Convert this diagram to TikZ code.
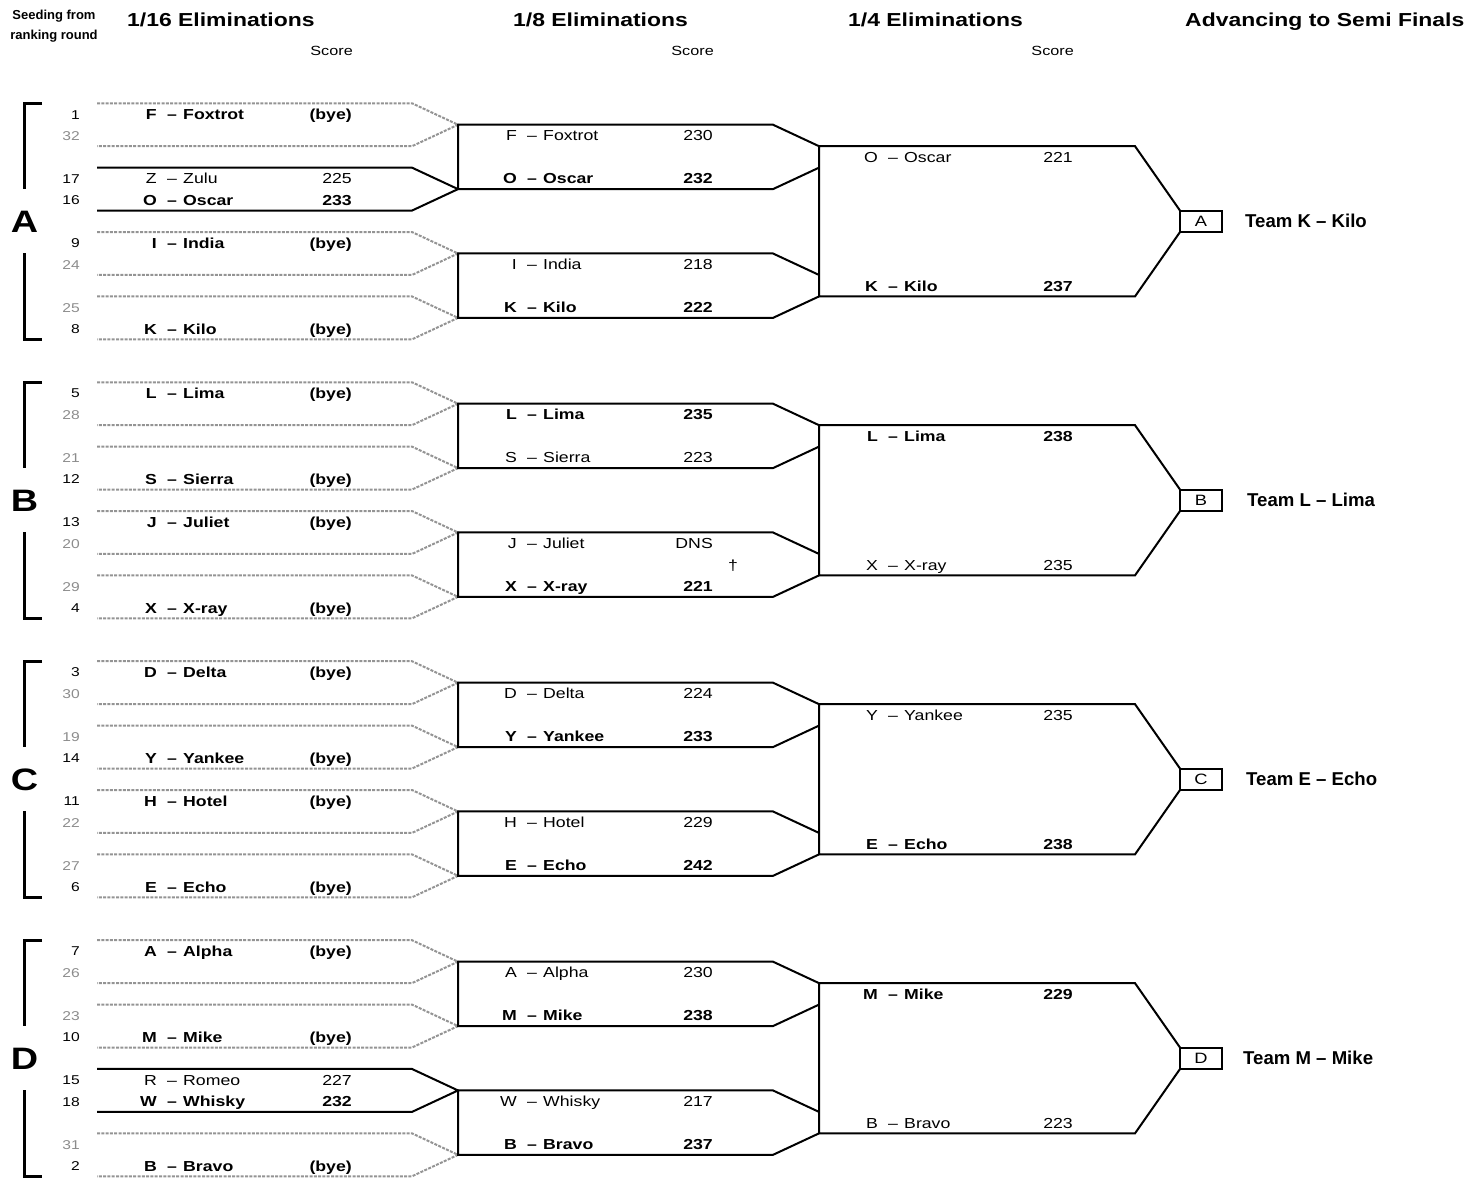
\documentclass[tikz,border=0pt]{standalone}
\usepackage{fontspec}
\setmainfont{Liberation Sans}[FakeStretch=1.22]
\newfontfamily\plainsans{Liberation Sans}
\tikzset{
  declare function={ry(\r)=114+21.46*\r;},
  solidln/.style={line width=2pt, black, line join=miter},
  dotln/.style={line width=2pt, black!42, dash pattern=on 3pt off 1.3pt},
  bracketln/.style={line width=3pt, line join=miter},
  txt/.style={inner sep=0pt, font=\fontsize{14.5}{16}\selectfont},
  btxt/.style={inner sep=0pt, font=\fontsize{14.5}{16}\selectfont\bfseries},
  seed/.style={inner sep=0pt, font=\fontsize{12.8}{14}\selectfont, anchor=base east},
  gseed/.style={seed, text=black!45},
  hdr/.style={inner sep=0pt, font=\fontsize{18.8}{20}\selectfont\bfseries, anchor=base west},
  scorehdr/.style={inner sep=0pt, font=\fontsize{13.3}{14}\selectfont, anchor=base east},
  seedhdr/.style={inner sep=0pt, font=\plainsans\fontsize{13}{14}\selectfont\bfseries, anchor=base},
  bigletter/.style={inner sep=0pt, font=\fontsize{31}{32}\selectfont\bfseries, anchor=base},
  semibox/.style={draw, line width=2pt, inner sep=0pt, outer sep=0pt, minimum width=42pt,
     minimum height=21.46pt, font=\fontsize{15}{16}\selectfont},
  teamlbl/.style={inner sep=0pt, font=\plainsans\fontsize{18.6}{20}\selectfont\bfseries, anchor=base west},
}
% entry: id, style, letter right x, row, letter, name, score right x, score
\newcommand\ent[8]{%
  \node[#2,anchor=base east] (#1-l) at ({#3},{ry(#4)+5.5}) {#5};
  \node[#2,anchor=base] (#1-d) at ({#3+15},{ry(#4)+5.5}) {–};
  \node[#2,anchor=base west] (#1-n) at ({#3+26},{ry(#4)+5.5}) {#6};
  \node[#2,anchor=base east] (#1-s) at ({#7},{ry(#4)+5.5}) {#8};
}
% seed: id, style, row, number
\newcommand\sd[4]{\node[#2] (#1) at (80,{ry(#3)+5}) {#4};}
% first round pair: id, row of first entry, line style
\newcommand\rone[3]{%
  \coordinate (#1) at (458,{ry(#2+0.5)});
  \draw[#3] (97,{ry(#2-0.5)}) -- (412,{ry(#2-0.5)}) -- (#1) -- (412,{ry(#2+1.5)}) -- (97,{ry(#2+1.5)});
}
% second round box: id, row base, top-left meeting, bottom-left meeting
\newcommand\rtwo[4]{%
  \coordinate (#1-t) at (819,{ry(#2+1.5)});
  \coordinate (#1-b) at (819,{ry(#2+2.5)});
  \draw[solidln] (#1-t) -- (773,{ry(#2+0.5)}) -- (#3) -- (#4) -- (773,{ry(#2+3.5)}) -- (#1-b);
}
% third round: id, group row base, semi node, top coordinate
\newcommand\rthree[4]{%
  \coordinate (#1-bot) at (819,{ry(#2+8.5)});
  \draw[solidln] (#3.north west) -- (1135,{ry(#2+1.5)}) -- (#4) -- (#1-bot) -- (1135,{ry(#2+8.5)}) -- (#3.south west);
}
% group bracket and letter: id, row base, letter
\newcommand\grp[3]{%
  \draw[bracketln] (42,{ry(#2-0.5)}) -- (24.5,{ry(#2-0.5)}) -- (24.5,{ry(#2+3.5)});
  \draw[bracketln] (24.5,{ry(#2+6.5)}) -- (24.5,{ry(#2+10.5)}) -- (42,{ry(#2+10.5)});
  \node[bigletter] (#1) at (24.5,{ry(#2+5)+11}) {#3};
}
\begin{document}
\begin{tikzpicture}[x=1pt,y=-1pt]
\useasboundingbox (0,0) rectangle (1482,1178);

% headers
\node[seedhdr] (h0a) at (54,19.3) {Seeding from};
\node[seedhdr] (h0b) at (54,39) {ranking round};
\node[hdr] (h1) at (127,26) {1/16 Eliminations};
\node[hdr] (h2) at (513,26) {1/8 Eliminations};
\node[hdr] (h3) at (848,26) {1/4 Eliminations};
\node[hdr] (h4) at (1185,26) {Advancing to Semi Finals};
\node[scorehdr] (s1) at (353,55) {Score};
\node[scorehdr] (s2) at (714,55) {Score};
\node[scorehdr] (s3) at (1074,55) {Score};

% ---------- group brackets ----------
\grp{GA}{0}{A}
\grp{GB}{13}{B}
\grp{GC}{26}{C}
\grp{GD}{39}{D}

% ---------- round 1 lines ----------
\rone{mA0}{0}{dotln}  \rone{mA1}{3}{solidln}  \rone{mA2}{6}{dotln}  \rone{mA3}{9}{dotln}
\rone{mB0}{13}{dotln} \rone{mB1}{16}{dotln}   \rone{mB2}{19}{dotln} \rone{mB3}{22}{dotln}
\rone{mC0}{26}{dotln} \rone{mC1}{29}{dotln}   \rone{mC2}{32}{dotln} \rone{mC3}{35}{dotln}
\rone{mD0}{39}{dotln} \rone{mD1}{42}{dotln}   \rone{mD2}{45}{solidln} \rone{mD3}{48}{dotln}

% ---------- semi boxes ----------
\node[semibox] (sA) at (1201,{ry(5)}) {A};
\node[semibox] (sB) at (1201,{ry(18)}) {B};
\node[semibox] (sC) at (1201,{ry(31)}) {C};
\node[semibox] (sD) at (1201,{ry(44)}) {D};

% ---------- round 2 boxes ----------
\rtwo{qA0}{0}{mA0}{mA1}   \rtwo{qA1}{6}{mA2}{mA3}
\rtwo{qB0}{13}{mB0}{mB1}  \rtwo{qB1}{19}{mB2}{mB3}
\rtwo{qC0}{26}{mC0}{mC1}  \rtwo{qC1}{32}{mC2}{mC3}
\rtwo{qD0}{39}{mD0}{mD1}  \rtwo{qD1}{45}{mD2}{mD3}

% ---------- round 3 ----------
\rthree{rA}{0}{sA}{qA0-t}
\rthree{rB}{13}{sB}{qB0-t}
\rthree{rC}{26}{sC}{qC0-t}
\rthree{rD}{39}{sD}{qD0-t}

% ---------- seeds ----------
\sd{sd1}{seed}{0}{1}    \sd{sd32}{gseed}{1}{32}  \sd{sd17}{seed}{3}{17}  \sd{sd16}{seed}{4}{16}
\sd{sd9}{seed}{6}{9}    \sd{sd24}{gseed}{7}{24}  \sd{sd25}{gseed}{9}{25} \sd{sd8}{seed}{10}{8}
\sd{sd5}{seed}{13}{5}   \sd{sd28}{gseed}{14}{28} \sd{sd21}{gseed}{16}{21} \sd{sd12}{seed}{17}{12}
\sd{sd13}{seed}{19}{13} \sd{sd20}{gseed}{20}{20} \sd{sd29}{gseed}{22}{29} \sd{sd4}{seed}{23}{4}
\sd{sd3}{seed}{26}{3}   \sd{sd30}{gseed}{27}{30} \sd{sd19}{gseed}{29}{19} \sd{sd14}{seed}{30}{14}
\sd{sd11}{seed}{32}{11} \sd{sd22}{gseed}{33}{22} \sd{sd27}{gseed}{35}{27} \sd{sd6}{seed}{36}{6}
\sd{sd7}{seed}{39}{7}   \sd{sd26}{gseed}{40}{26} \sd{sd23}{gseed}{42}{23} \sd{sd10}{seed}{43}{10}
\sd{sd15}{seed}{45}{15} \sd{sd18}{seed}{46}{18}  \sd{sd31}{gseed}{48}{31} \sd{sd2}{seed}{49}{2}

% ---------- round 1 entries ----------
\ent{a1}{btxt}{157}{0}{F}{Foxtrot}{352}{(bye)}
\ent{a2}{txt}{157}{3}{Z}{Zulu}{352}{225}
\ent{a3}{btxt}{157}{4}{O}{Oscar}{352}{233}
\ent{a4}{btxt}{157}{6}{I}{India}{352}{(bye)}
\ent{a5}{btxt}{157}{10}{K}{Kilo}{352}{(bye)}
\ent{b1}{btxt}{157}{13}{L}{Lima}{352}{(bye)}
\ent{b2}{btxt}{157}{17}{S}{Sierra}{352}{(bye)}
\ent{b3}{btxt}{157}{19}{J}{Juliet}{352}{(bye)}
\ent{b4}{btxt}{157}{23}{X}{X-ray}{352}{(bye)}
\ent{c1}{btxt}{157}{26}{D}{Delta}{352}{(bye)}
\ent{c2}{btxt}{157}{30}{Y}{Yankee}{352}{(bye)}
\ent{c3}{btxt}{157}{32}{H}{Hotel}{352}{(bye)}
\ent{c4}{btxt}{157}{36}{E}{Echo}{352}{(bye)}
\ent{d1}{btxt}{157}{39}{A}{Alpha}{352}{(bye)}
\ent{d2}{btxt}{157}{43}{M}{Mike}{352}{(bye)}
\ent{d3}{txt}{157}{45}{R}{Romeo}{352}{227}
\ent{d4}{btxt}{157}{46}{W}{Whisky}{352}{232}
\ent{d5}{btxt}{157}{49}{B}{Bravo}{352}{(bye)}

% ---------- round 2 entries ----------
\ent{ea1}{txt}{517}{1}{F}{Foxtrot}{713}{230}
\ent{ea2}{btxt}{517}{3}{O}{Oscar}{713}{232}
\ent{ea3}{txt}{517}{7}{I}{India}{713}{218}
\ent{ea4}{btxt}{517}{9}{K}{Kilo}{713}{222}
\ent{eb1}{btxt}{517}{14}{L}{Lima}{713}{235}
\ent{eb2}{txt}{517}{16}{S}{Sierra}{713}{223}
\ent{eb3}{txt}{517}{20}{J}{Juliet}{713}{DNS}
\ent{eb4}{btxt}{517}{22}{X}{X-ray}{713}{221}
\node[txt,anchor=base] (dagger) at (733,{ry(21)+5.5}) {†};
\ent{ec1}{txt}{517}{27}{D}{Delta}{713}{224}
\ent{ec2}{btxt}{517}{29}{Y}{Yankee}{713}{233}
\ent{ec3}{txt}{517}{33}{H}{Hotel}{713}{229}
\ent{ec4}{btxt}{517}{35}{E}{Echo}{713}{242}
\ent{ed1}{txt}{517}{40}{A}{Alpha}{713}{230}
\ent{ed2}{btxt}{517}{42}{M}{Mike}{713}{238}
\ent{ed3}{txt}{517}{46}{W}{Whisky}{713}{217}
\ent{ed4}{btxt}{517}{48}{B}{Bravo}{713}{237}

% ---------- round 3 entries ----------
\ent{qa1}{txt}{878}{2}{O}{Oscar}{1073}{221}
\ent{qa2}{btxt}{878}{8}{K}{Kilo}{1073}{237}
\ent{qb1}{btxt}{878}{15}{L}{Lima}{1073}{238}
\ent{qb2}{txt}{878}{21}{X}{X-ray}{1073}{235}
\ent{qc1}{txt}{878}{28}{Y}{Yankee}{1073}{235}
\ent{qc2}{btxt}{878}{34}{E}{Echo}{1073}{238}
\ent{qd1}{btxt}{878}{41}{M}{Mike}{1073}{229}
\ent{qd2}{txt}{878}{47}{B}{Bravo}{1073}{223}

% ---------- semi finalists ----------
\node[teamlbl] (tA) at (1245,{ry(5)+6.6}) {Team K – Kilo};
\node[teamlbl] (tB) at (1247,{ry(18)+6.6}) {Team L – Lima};
\node[teamlbl] (tC) at (1246,{ry(31)+6.6}) {Team E – Echo};
\node[teamlbl] (tD) at (1243,{ry(44)+6.6}) {Team M – Mike};
\end{tikzpicture}
\end{document}
